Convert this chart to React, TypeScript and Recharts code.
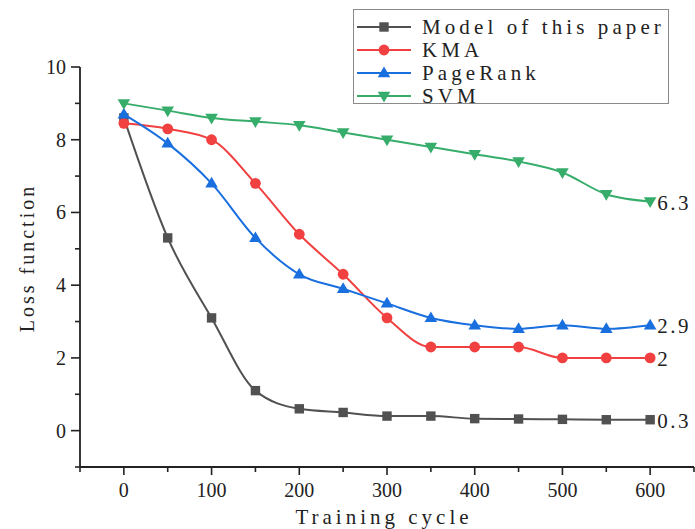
import { LineChart, Line, XAxis, YAxis, Label, LabelList } from 'recharts'

const cycles = [0, 50, 100, 150, 200, 250, 300, 350, 400, 450, 500, 550, 600]
const modelLoss = [8.6, 5.3, 3.1, 1.1, 0.6, 0.5, 0.4, 0.4, 0.33, 0.32, 0.31, 0.3, 0.3]
const kmaLoss = [8.45, 8.3, 8.0, 6.8, 5.4, 4.3, 3.1, 2.3, 2.3, 2.3, 2.0, 2.0, 2.0]
const pageRankLoss = [8.7, 7.9, 6.8, 5.3, 4.3, 3.9, 3.5, 3.1, 2.9, 2.8, 2.9, 2.8, 2.9]
const svmLoss = [9.0, 8.8, 8.6, 8.5, 8.4, 8.2, 8.0, 7.8, 7.6, 7.4, 7.1, 6.5, 6.3]
const endLabels = ['0.3', '2', '2.9', '6.3']

const xTicks = [-50, 0, 50, 100, 150, 200, 250, 300, 350, 400, 450, 500, 550, 600, 650]
const yTicks = [-1, 0, 1, 2, 3, 4, 5, 6, 7, 8, 9, 10]

type Shape = 'square' | 'circle' | 'up' | 'down'

const SERIES: { key: string; name: string; color: string; shape: Shape; values: number[]; end: string }[] = [
  { key: 'model', name: 'Model of this paper', color: '#515151', shape: 'square', values: modelLoss, end: endLabels[0]! },
  { key: 'kma', name: 'KMA', color: '#F14040', shape: 'circle', values: kmaLoss, end: endLabels[1]! },
  { key: 'pageRank', name: 'PageRank', color: '#1A6FDF', shape: 'up', values: pageRankLoss, end: endLabels[2]! },
  { key: 'svm', name: 'SVM', color: '#37AD6B', shape: 'down', values: svmLoss, end: endLabels[3]! },
]

const data = cycles.map((c, i) => {
  const row: Record<string, number> = { cycle: c }
  SERIES.forEach((s) => { row[s.key] = s.values[i]! })
  return row
})

// thin serif, spaced out, to stand in for the SimSun-style text of the original
const SERIF = '"Liberation Serif", "DejaVu Serif", serif'
const INK = '#222'

function Marker({ shape, cx, cy, color }: { shape: Shape; cx: number; cy: number; color: string }) {
  if (shape === 'square') return <rect x={cx - 4.7} y={cy - 4.7} width={9.4} height={9.4} fill={color} />
  if (shape === 'circle') return <circle cx={cx} cy={cy} r={5.4} fill={color} />
  if (shape === 'up') return <polygon points={`${cx},${cy - 6.5} ${cx - 6.3},${cy + 4.2} ${cx + 6.3},${cy + 4.2}`} fill={color} />
  return <polygon points={`${cx},${cy + 6.5} ${cx - 6.3},${cy - 4.2} ${cx + 6.3},${cy - 4.2}`} fill={color} />
}

function YTick({ x, y, payload }: any) {
  const v = payload.value as number
  const major = v >= 0 && v % 2 === 0
  return (
    <g>
      <line x1={x} x2={x - (major ? 9 : 5)} y1={y} y2={y} stroke={INK} strokeWidth={1.6} />
      {major && (
        <text x={x - 14} y={y} textAnchor="end" dominantBaseline="central" fontFamily={SERIF} fontSize={20} fill={INK}>
          {v}
        </text>
      )}
    </g>
  )
}

function XTick({ x, y, payload }: any) {
  const v = payload.value as number
  const major = v >= 0 && v % 100 === 0
  return (
    <g>
      <line x1={x} x2={x} y1={y} y2={y + (major ? 8 : 5)} stroke={INK} strokeWidth={1.6} />
      {major && (
        <text x={x} y={y + 23} textAnchor="middle" dominantBaseline="central" fontFamily={SERIF} fontSize={20} fill={INK}>
          {v}
        </text>
      )}
    </g>
  )
}

function LegendBox() {
  return (
    <div
      style={{
        position: 'absolute', left: 353, top: 9, width: 316, height: 95,
        border: '1px solid #8a8a8a', background: '#fff', boxSizing: 'border-box',
        paddingTop: 5,
      }}
    >
      {SERIES.map((s) => (
        <div key={s.key} style={{ display: 'flex', alignItems: 'center', height: 23 }}>
          <svg width={65} height={20} style={{ marginLeft: 3, flex: 'none' }}>
            <line x1={0} x2={54} y1={10} y2={10} stroke={s.color} strokeWidth={2} />
            <Marker shape={s.shape} cx={27} cy={10} color={s.color} />
          </svg>
          <span style={{ fontFamily: SERIF, fontSize: 21, letterSpacing: 4.1, color: INK, lineHeight: '20px', whiteSpace: 'nowrap' }}>{s.name}</span>
        </div>
      ))}
    </div>
  )
}

export default function App() {
  const last = cycles.length - 1
  return (
    <div style={{ position: 'absolute', left: 0, top: 0, width: 695, height: 529, background: '#fff' }}>
      <LineChart width={695} height={529} data={data} margin={{ top: 67, right: 1, left: 0, bottom: 0 }}>
        <XAxis
          dataKey="cycle" type="number" domain={[-50, 650]} ticks={xTicks} interval={0}
          height={62} tickSize={0} tickMargin={0} tickLine={false} tick={<XTick />}
          axisLine={{ stroke: INK, strokeWidth: 1.8 }}
        >
          <Label
            content={({ viewBox }: any) => (
              <text x={viewBox.x + viewBox.width / 2 - 3} y={viewBox.y + 50} textAnchor="middle" dominantBaseline="central"
                fontFamily={SERIF} fontSize={21} letterSpacing={4} fill={INK}>
                Training cycle
              </text>
            )}
          />
        </XAxis>
        <YAxis
          type="number" domain={[-1, 10]} ticks={yTicks} interval={0} width={80}
          tickSize={0} tickMargin={0} tickLine={false} tick={<YTick />}
          axisLine={{ stroke: INK, strokeWidth: 1.8 }}
        >
          <Label
            content={({ viewBox }: any) => {
              const cx = viewBox.x + 27
              const cy = viewBox.y + viewBox.height / 2 - 9
              return (
                <text x={cx} y={cy} transform={`rotate(-90 ${cx} ${cy})`} textAnchor="middle" dominantBaseline="central"
                  fontFamily={SERIF} fontSize={20} letterSpacing={3} fill={INK}>
                  Loss function
                </text>
              )
            }}
          />
        </YAxis>
        {SERIES.map((s) => (
          <Line
            key={s.key}
            dataKey={s.key}
            name={s.name}
            type="monotone"
            stroke={s.color}
            strokeWidth={2}
            isAnimationActive={false}
            dot={(p: any) => <Marker key={`${s.key}-${p.index}`} shape={s.shape} cx={p.cx} cy={p.cy} color={s.color} />}
            activeDot={false}
          >
            <LabelList
              dataKey={s.key}
              content={(p: any) =>
                p.index === last ? (
                  <text x={p.x + 7} y={p.y + 1} dominantBaseline="central" fontFamily={SERIF} fontSize={21} letterSpacing={2.5} fill={INK}>
                    {s.end}
                  </text>
                ) : null
              }
            />
          </Line>
        ))}
      </LineChart>
      <LegendBox />
    </div>
  )
}
